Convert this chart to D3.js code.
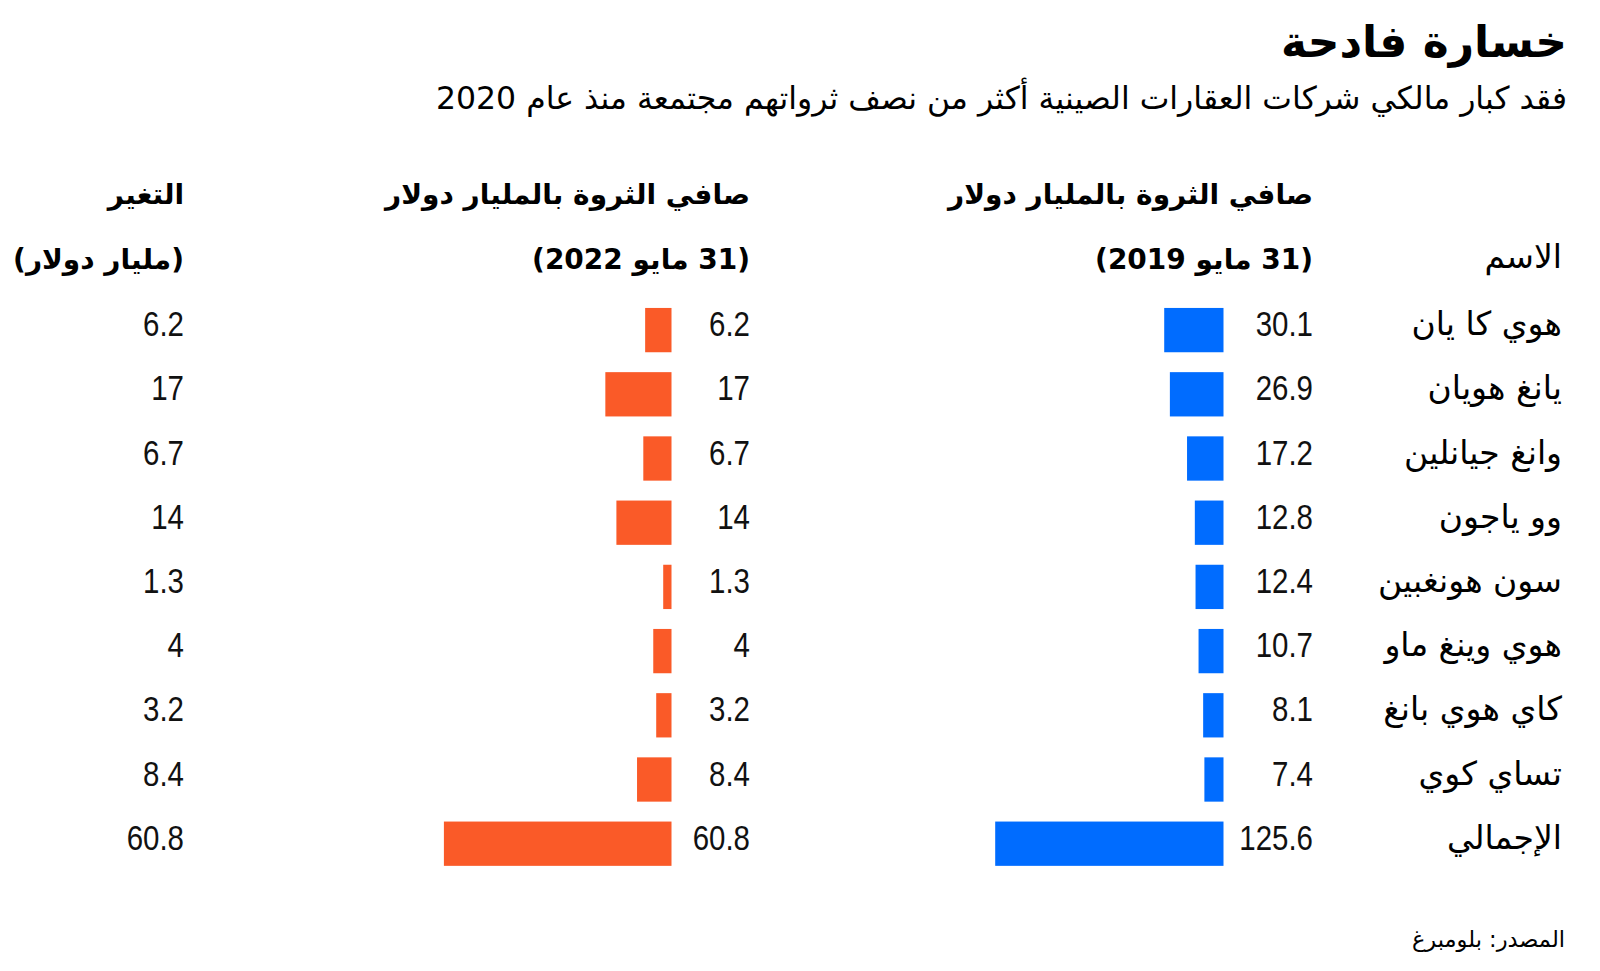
<!DOCTYPE html>
<html lang="ar">
<head>
<meta charset="utf-8">
<script src="https://cdn.jsdelivr.net/npm/d3@7"></script>
<style>
  html, body { margin: 0; padding: 0; background: #fff; }
  svg { display: block; }
  .ar { font-family: "DejaVu Sans", "Noto Sans", sans-serif; }
  .num { font-family: "Liberation Sans", Arial, sans-serif; }
</style>
</head>
<body>
<svg id="chart" width="1600" height="971"></svg>
<script>
// ---- Data ----
const titleText = "خسارة فادحة";
const subtitleText = "فقد كبار مالكي شركات العقارات الصينية أكثر من نصف ثرواتهم مجتمعة منذ عام 2020";
const names = ["هوي كا يان", "يانغ هويان", "وانغ جيانلين", "وو ياجون", "سون هونغبين", "هوي وينغ ماو", "كاي هوي بانغ", "تساي كوي", "الإجمالي"];
const wealth2019 = [30.1, 26.9, 17.2, 12.8, 12.4, 10.7, 8.1, 7.4, 125.6];
const wealth2022 = [6.2, 17, 6.7, 14, 1.3, 4, 3.2, 8.4, 60.8];
const changeVals = [6.2, 17, 6.7, 14, 1.3, 4, 3.2, 8.4, 60.8];
const headerName = "الاسم";
const header2019 = ["صافي الثروة بالمليار دولار", "(31 مايو 2019)"];
const header2022 = ["صافي الثروة بالمليار دولار", "(31 مايو 2022)"];
const headerChange = ["التغير", "(مليار دولار)"];
const sourceText = "المصدر: بلومبرغ";

// ---- Layout ----
const svg = d3.select("#chart");
const BLUE = "#006cff", ORANGE = "#fa5a28";

const y = d3.scaleBand().domain(names)
  .range([298, 298 + 9 * 64.2]).paddingInner(0.31).paddingOuter(0.155);

const xBlue = d3.scaleLinear().domain([-3.4, 125.6]).range([0, 228.3]);
const xOrange = d3.scaleLinear().domain([-0.95, 60.8]).range([0, 227.6]);

const colName = 1562, colV19 = 1313, barR19 = 1223.5, colV22 = 750, barR22 = 671.5, colChg = 184;
const NUM_SX = 0.83;

// Title & subtitle
svg.append("text").attr("class", "ar").attr("direction", "rtl")
  .attr("x", 1567).attr("y", 57).attr("text-anchor", "start")
  .attr("font-size", 44).attr("font-weight", 700).attr("fill", "#000").text(titleText);
svg.append("text").attr("class", "ar").attr("direction", "rtl")
  .attr("x", 1567).attr("y", 109).attr("text-anchor", "start")
  .attr("font-size", 31.5).attr("fill", "#000").text(subtitleText);

// Headers
function header(lines, x) {
  lines.forEach((t, i) => {
    svg.append("text").attr("class", "ar").attr("direction", "rtl")
      .attr("x", x).attr("y", i === 0 ? 204 : 269).attr("text-anchor", "start")
      .attr("font-size", 28).attr("font-weight", 700).attr("fill", "#000").text(t);
  });
}
header(header2019, colV19);
header(header2022, colV22);
header(headerChange, colChg);
svg.append("text").attr("class", "ar").attr("direction", "rtl")
  .attr("x", colName).attr("y", 268).attr("text-anchor", "start")
  .attr("font-size", 33).attr("fill", "#000").text(headerName);

// Rows
const rows = names.map((n, i) => ({ name: n, v19: wealth2019[i], v22: wealth2022[i], chg: changeVals[i] }));
const g = svg.append("g");
const rowG = g.selectAll("g.row").data(rows).join("g").attr("class", "row");
const base = d => y(d.name) + y.bandwidth() / 2 + 6;

rowG.append("text").attr("class", "ar").attr("direction", "rtl")
  .attr("x", colName).attr("y", d => base(d) - 1).attr("text-anchor", "start")
  .attr("font-size", 33).attr("fill", "#000").text(d => d.name);

function numText(sel, x, acc) {
  sel.append("text").attr("class", "num")
    .attr("transform", d => `translate(${x},${base(d)}) scale(${NUM_SX},1)`)
    .attr("text-anchor", "end")
    .attr("font-size", 35.5).attr("fill", "#111").text(acc);
}

numText(rowG, colV19, d => d.v19);
rowG.append("rect")
  .attr("x", d => barR19 - xBlue(d.v19)).attr("y", d => y(d.name))
  .attr("width", d => xBlue(d.v19)).attr("height", y.bandwidth()).attr("fill", BLUE);

numText(rowG, colV22, d => d.v22);
rowG.append("rect")
  .attr("x", d => barR22 - xOrange(d.v22)).attr("y", d => y(d.name))
  .attr("width", d => xOrange(d.v22)).attr("height", y.bandwidth()).attr("fill", ORANGE);

numText(rowG, colChg, d => d.chg);

// Source
svg.append("text").attr("class", "ar").attr("direction", "rtl")
  .attr("x", 1565).attr("y", 947).attr("text-anchor", "start")
  .attr("font-size", 22.5).attr("fill", "#000").text(sourceText);
</script>
</body>
</html>
